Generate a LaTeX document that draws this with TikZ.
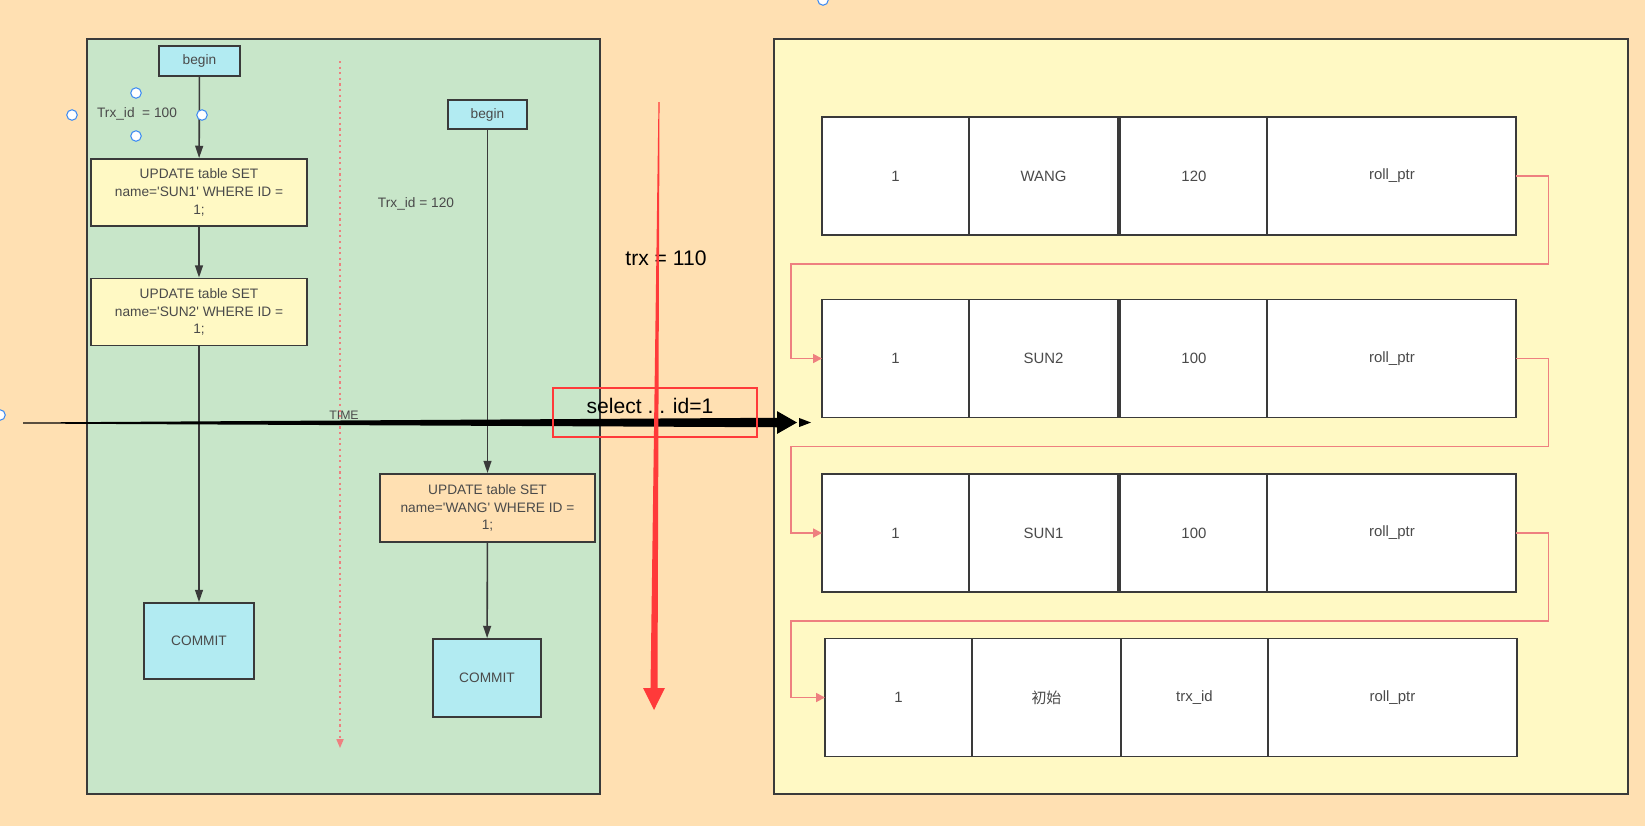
\documentclass[tikz,border=0pt]{standalone}
\usepackage{fontspec}
\setmainfont{Liberation Sans}
\newfontfamily\cjk{Noto Sans CJK SC}
\usetikzlibrary{positioning, arrows.meta}

\definecolor{bgpeach}{HTML}{FFE0B2}
\definecolor{panelgreen}{HTML}{C8E6C9}
\definecolor{panelyellow}{HTML}{FFF9C4}
\definecolor{boxcyan}{HTML}{B2EBF2}
\definecolor{linegray}{HTML}{3A3A3A}
\definecolor{textgray}{HTML}{4A4A4A}
\definecolor{linkred}{HTML}{EE8080}
\definecolor{bigred}{HTML}{FF3A3A}
\definecolor{handleblue}{HTML}{3D8BF2}

\tikzset{
  panel/.style={draw=linegray, line width=1.1pt, minimum height=15.1cm},
  flowbox/.style={draw=linegray, line width=1.1pt, align=center, text=textgray,
    font=\fontsize{7.8}{10.1}\selectfont, inner sep=2pt},
  cell/.style={draw=linegray, line width=1.1pt, fill=white, minimum height=2.36cm,
    text=textgray, font=\fontsize{8.5}{10}\selectfont, inner sep=0pt, outer sep=0pt},
  flow/.style={draw=linegray, line width=0.9pt, -{Triangle[length=7pt,width=4.5pt]}},
  link/.style={draw=linkred, line width=1pt, -{Triangle[length=5pt,width=5pt]}},
  handle/.style={circle, draw=handleblue, fill=white, line width=0.6pt,
    minimum size=0.21cm, inner sep=0pt},
  note/.style={text=textgray, font=\fontsize{7.8}{10}\selectfont},
  bignote/.style={text=black, font=\fontsize{12}{14}\selectfont},
}
\newcommand{\qt}{\textquotesingle}

\begin{document}
\begin{tikzpicture}[x=0.02cm, y=-0.02cm]
  \fill[bgpeach] (0,0) rectangle (1645,826);
  \useasboundingbox (0,0) rectangle (1645,826);

  % the two panels
  \node[panel, fill=panelgreen, minimum width=10.26cm] (left) at (343.5,416.5) {};
  \node[panel, fill=panelyellow, minimum width=17.08cm] (right) at (1201,416.5) {};

  % time line
  \coordinate (timeTop) at (340,61);
  \coordinate (timeEnd) at (340,748);
  \draw[linkred, line width=0.8pt, dash pattern=on 1.2pt off 2pt,
    -{Triangle[length=5pt,width=4pt]}] (timeTop) -- (timeEnd);

  % first transaction
  \node[flowbox, fill=boxcyan, minimum width=1.62cm, minimum height=0.6cm] (begin1) at (199.5,61) {begin};
  \node[flowbox, fill=panelyellow, minimum width=4.32cm, minimum height=1.34cm] (upd1) at (199,192.5)
    {UPDATE table SET\\name=\qt SUN1\qt{} WHERE ID =\\1;};
  \node[flowbox, fill=panelyellow, minimum width=4.32cm, minimum height=1.34cm] (upd2) at (199,312)
    {UPDATE table SET\\name=\qt SUN2\qt{} WHERE ID =\\1;};
  \node[flowbox, fill=boxcyan, minimum width=2.2cm, minimum height=1.52cm] (commit1) at (199,641) {COMMIT};
  \node[note] (trx1) at (137,114) {Trx\_id\ \ = 100};

  \draw[flow] (begin1) -- (upd1);
  \draw[flow] (upd1) -- (upd2);
  \draw[flow] (upd2) -- (commit1);

  % selection handles
  \node[handle] (h1) at (136,93) {};
  \node[handle] (h2) at (72,115) {};
  \node[handle] (h3) at (202,115) {};
  \node[handle] (h4) at (136,136) {};
  \node[handle] (h5) at (823,0) {};
  \node[handle] (h6) at (0,415) {};

  % second transaction
  \node[flowbox, fill=boxcyan, minimum width=1.58cm, minimum height=0.58cm] (begin2) at (487.5,114.5) {begin};
  \node[note] (trx2) at (416,204) {Trx\_id = 120};
  \node[flowbox, fill=bgpeach, minimum width=4.3cm, minimum height=1.36cm] (upd3) at (487.5,508)
    {UPDATE table SET\\name=\qt WANG\qt{} WHERE ID =\\1;};
  \node[flowbox, fill=boxcyan, minimum width=2.16cm, minimum height=1.56cm] (commit2) at (487,678) {COMMIT};

  \draw[flow] (begin2) -- (upd3);
  \draw[flow] (upd3) -- (commit2);

  % version chain
  \foreach \r/\yc/\nm/\tid/\xo/\gap in {1/176/WANG/120/822/0.05cm, 2/358.5/SUN2/100/822/0.05cm,
      3/533/SUN1/100/822/0.05cm, 4/697.5/{\cjk 初始}/trx\_id/825/0pt} {
    \node[cell, minimum width=2.94cm, anchor=west] (r\r a) at (\xo,\yc) {1};
    \node[cell, minimum width=2.98cm, right=0pt of r\r a] (r\r b) {\nm};
    \node[cell, minimum width=2.94cm, right=\gap of r\r b] (r\r c) {\tid};
    \node[cell, minimum width=4.98cm, right=0pt of r\r c] (r\r d) {roll\_ptr};
  }

  \coordinate (lx) at (791,0);
  \foreach \r in {1,2,3} {
    \pgfmathtruncatemacro{\s}{\r+1}
    \draw[link] (r\r d.east) -- ++(32,0) -- ++(0,88) -| (r\s a.west -| lx) -- (r\s a.west);
  }

  % time arrow
  \node[note, font=\fontsize{7}{8}\selectfont] (time) at (344,415) {TIME};
  \coordinate (timeL) at (23,423);
  \coordinate (timeK) at (777,422.5);
  \coordinate (timeTip) at (797,422.5);
  \coordinate (timeK2) at (799,422.5);
  \coordinate (timeTip2) at (811,422.5);
  \fill[black] ([yshift=0.3pt]timeL) -- ([yshift=2.7pt]timeK) -- ([yshift=6.5pt]timeK)
    -- (timeTip) -- ([yshift=-6.5pt]timeK) -- ([yshift=-2.7pt]timeK) -- ([yshift=-0.3pt]timeL) -- cycle;
  \fill[black] ([yshift=2.6pt]timeK2) -- (timeTip2) -- ([yshift=-2.6pt]timeK2) -- cycle;

  % the read
  \node[draw=bigred, line width=1.1pt, minimum width=4.08cm, minimum height=0.98cm] (sel) at (655,412.5) {};
  \node[bignote] (seltxt) at (650,406) {select ... id=1};
  \node[bignote] (trx3) at (666,258) {trx = 110};

  \coordinate (trxTop) at (659,102);
  \coordinate (trxBase) at (654,688);
  \coordinate (trxTip) at (654,710);
  \fill[bigred] ([xshift=-0.3pt]trxTop) -- ([xshift=0.3pt]trxTop) -- ([xshift=2pt]trxBase)
    -- ([xshift=6.2pt]trxBase) -- (trxTip) -- ([xshift=-6.2pt]trxBase) -- ([xshift=-2pt]trxBase) -- cycle;
\end{tikzpicture}
\end{document}
